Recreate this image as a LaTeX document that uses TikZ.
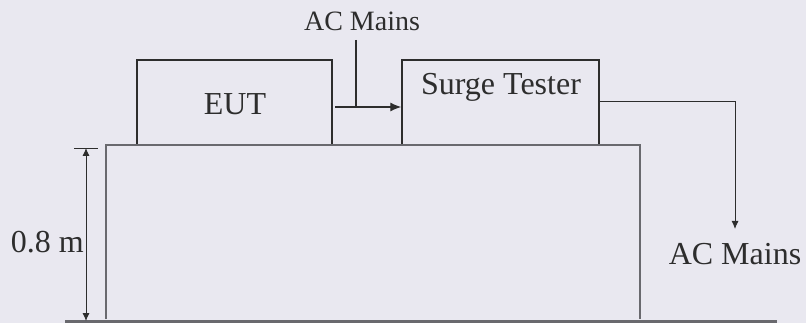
\documentclass[tikz,border=0pt]{standalone}
\usepackage{fontspec}
\setmainfont{Liberation Serif}
\usetikzlibrary{arrows.meta}
\definecolor{bgpaper}{RGB}{233,232,240}
\definecolor{ink}{RGB}{45,45,45}
\definecolor{tablegrey}{RGB}{105,105,110}
\begin{document}
\begin{tikzpicture}[x=1pt,y=-1pt,
  box/.style={draw=ink,line width=1.4pt,rectangle,inner sep=0pt},
  lbl/.style={inner sep=0pt,text=ink,font=\fontsize{32}{38}\selectfont},
  smalllbl/.style={inner sep=0pt,text=ink,font=\fontsize{28}{33}\selectfont},
  wire/.style={draw=ink,line width=1.2pt},
  thinwire/.style={draw=ink,line width=0.9pt},
  furniture/.style={draw=tablegrey,line width=1.8pt}]
  % canvas
  \fill[bgpaper] (0,0) rectangle (806,323);
  \useasboundingbox (0,0) rectangle (806,323);

  % units on the table
  \node[box,minimum width=195pt,minimum height=85pt] (eut) at (234.5,102.5) {};
  \node[lbl] (eutlbl) at (235,104) {EUT};
  \node[box,minimum width=197pt,minimum height=85pt] (st) at (500.5,102.5) {};
  \node[lbl] (stlbl) at (501,87) {Surge Tester};

  % mains feed into the tester
  \node[smalllbl] (acin) at (362,21) {AC Mains};
  \coordinate (feedtop) at (356,40);
  \coordinate (feedjoin) at (356,107);
  \coordinate (feedstart) at (335,107);
  \draw[wire] (feedtop) -- (feedjoin);
  \draw[wire,-{Latex[length=11pt,width=9pt]}] (feedstart) -- (st.west |- feedstart);

  % tester output to mains
  \node[lbl] (acout) at (735,254) {AC Mains};
  \coordinate (outcorner) at (735,101);
  \coordinate (outtip) at (735,229);
  \draw[thinwire,-{Latex[length=8pt,width=7pt]}] (st.east |- outcorner) -- (outcorner) -- (outtip);

  % table and floor
  \coordinate (tl) at (106,145);
  \coordinate (tr) at (640,145);
  \coordinate (ll) at (106,319);
  \coordinate (rl) at (640,319);
  \draw[furniture] (ll) -- (tl) -- (tr) -- (rl);
  \coordinate (fl) at (65,321);
  \coordinate (fr) at (777,321);
  \draw[draw=tablegrey,line width=3pt] (fl) -- (fr);

  % table height dimension
  \coordinate (dtop) at (86,148);
  \coordinate (dbot) at (86,321);
  \draw[thinwire] (74,148) -- (98,148);
  \draw[thinwire,{Latex[length=8pt,width=7pt]}-{Latex[length=8pt,width=7pt]}] (dtop) -- (dbot);
  \node[lbl,anchor=east] (height) at (84,242) {0.8 m};
\end{tikzpicture}
\end{document}
